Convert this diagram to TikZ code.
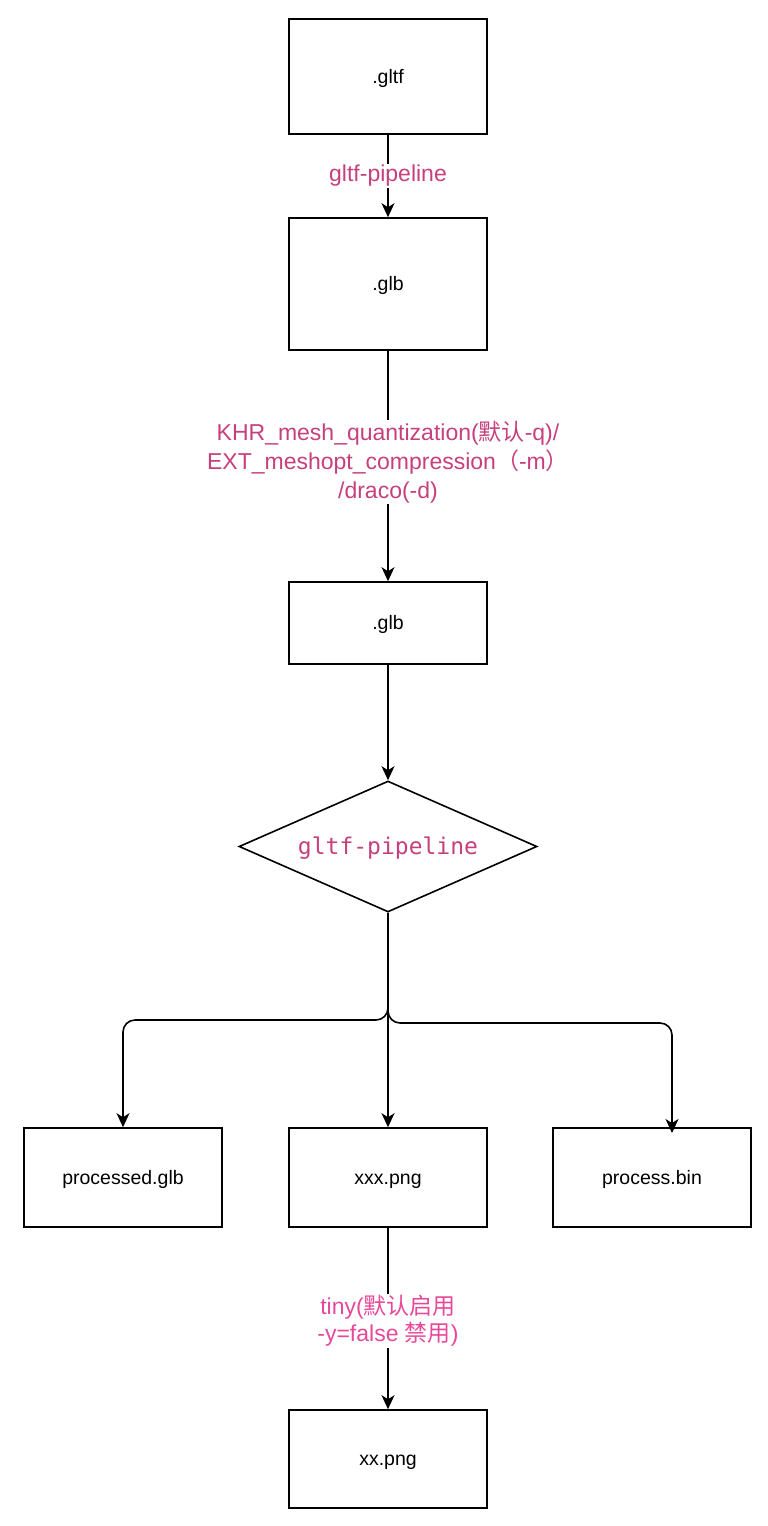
\documentclass[tikz,border=0pt]{standalone}
\usepackage{fontspec}
\setmainfont{Liberation Sans}
\setmonofont{DejaVu Sans Mono}
\newfontfamily\cjk{Noto Sans CJK SC}
\usetikzlibrary{shapes.geometric,arrows.meta}
\definecolor{lbl}{HTML}{C7407E}
\definecolor{lbltwo}{HTML}{E8489A}
\begin{document}
\begin{tikzpicture}[x=1pt,y=-1pt,
  box/.style={draw,line width=1.6pt,minimum width=198pt,inner sep=0pt,text height=15pt,text depth=2pt,font=\fontsize{19.5}{23}\selectfont},
  arr/.style={line width=1.6pt,-{Stealth[length=14pt,width=13pt,inset=4pt]}},
  lab/.style={fill=white,inner sep=1pt,align=center,font=\fontsize{23}{29}\selectfont,text=lbl}]
\useasboundingbox (0,0) rectangle (768,1526);
\fill[white] (0,0) rectangle (768,1526);
\node[box,minimum height=115pt] (a) at (388,76.5) {.gltf};
\node[box,minimum height=132pt] (b) at (388,284) {.glb};
\node[box,minimum height=82pt] (c) at (388,623) {.glb};
\node[diamond,aspect=2.27,draw,line width=1.6pt,minimum width=298pt,minimum height=131pt,inner sep=0pt,text height=17pt,text depth=2pt,text=lbl,font=\ttfamily\fontsize{23}{27}\selectfont] (d) at (388,846.5) {gltf-pipeline};
\node[box,minimum height=99pt] (p1) at (123,1177.5) {processed.glb};
\node[box,minimum height=99pt] (p2) at (388,1177.5) {xxx.png};
\node[box,minimum height=99pt] (p3) at (652,1177.5) {process.bin};
\node[box,minimum height=98pt] (e) at (388,1459) {xx.png};
\coordinate (lb) at (123,1020);
\coordinate (rb) at (672,1023);
\coordinate (re) at (672,1133);
\draw[arr] (a) -- node[lab] {gltf-pipeline} (b);
\draw[arr] (b) -- node[lab,yshift=4pt] {KHR\_mesh\_quantization({\cjk 默认}-q)/\\EXT\_meshopt\_compression{\cjk （}-m{\cjk ）}\\/draco(-d)} (c);
\draw[arr] (c) -- (d);
\draw[arr] (d) -- (p2);
\draw[arr,rounded corners=12pt] (d.south) -- (d.south |- lb) -- (lb) -- (p1.north);
\draw[arr,rounded corners=12pt] (d.south) -- (d.south |- rb) -- (rb) -- (re);
\draw[arr] (p2) -- node[lab,yshift=-2.5pt,text=lbltwo,font=\fontsize{23}{27}\selectfont] {tiny({\cjk 默认启用}\\-y=false {\cjk 禁用})} (e);
\end{tikzpicture}
\end{document}
